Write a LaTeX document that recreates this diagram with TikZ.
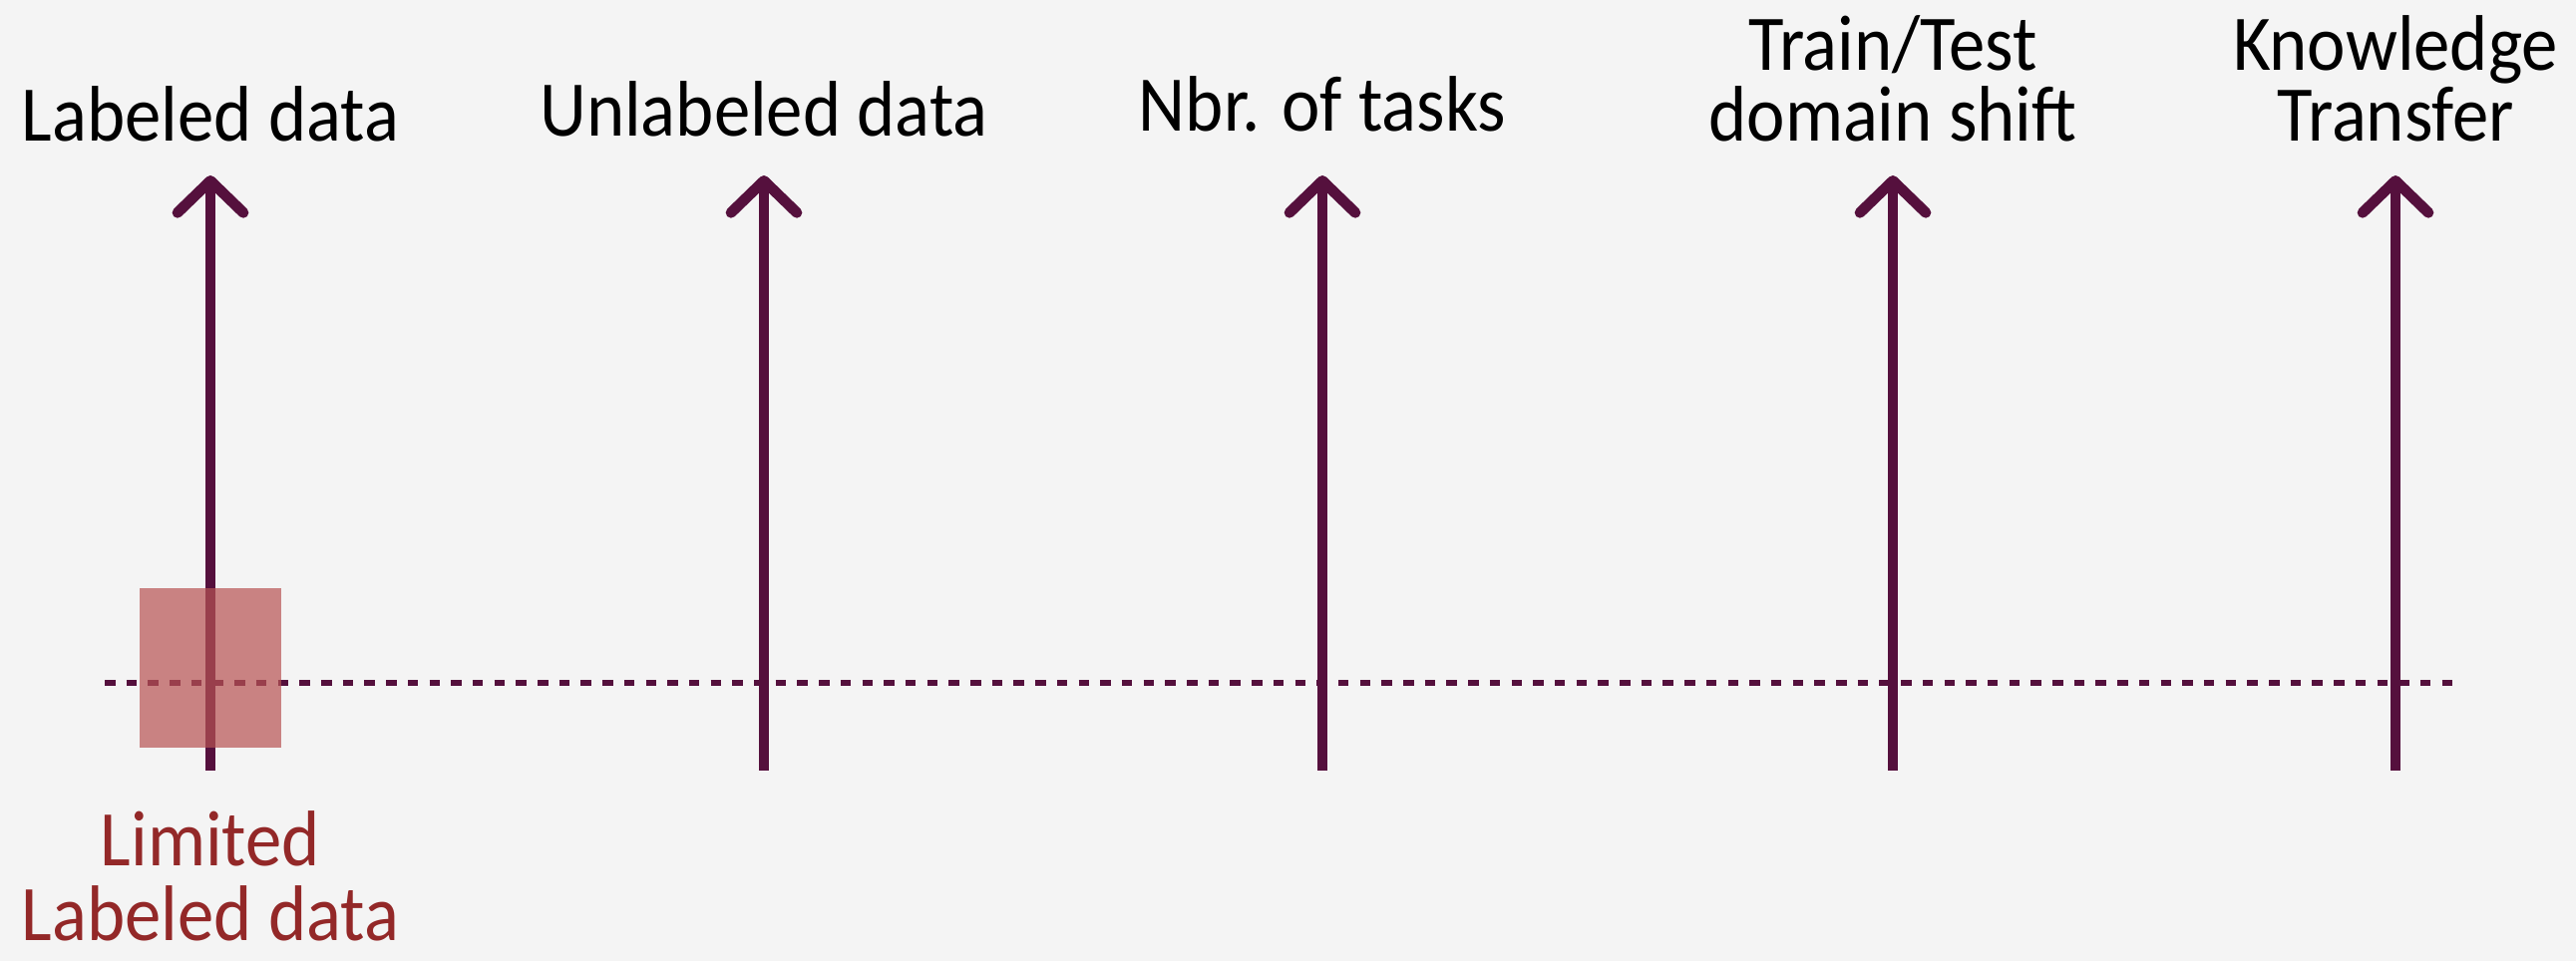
\documentclass[tikz,border=0pt]{standalone}
\usepackage{fontspec}
\setmainfont[FakeStretch = 0.92]{Carlito}
\usetikzlibrary{arrows.meta}

\definecolor{bgcol}{HTML}{F4F4F4}
\definecolor{axiscol}{HTML}{55103D}
\definecolor{limcol}{HTML}{932828}
\definecolor{boxcol}{HTML}{B75353}

\tikzset{
  axis/.style = {line width = 1.07mm, axiscol, -{Straight Barb[length = 3.2mm, width = 6.6mm, round]}},
  toplabel/.style = {inner sep = 0pt, align = center, anchor = south, font = \fontsize{22.5}{20.2}\selectfont},
  limlabel/.style = {toplabel, text = limcol, font = \fontsize{22.5}{21.5}\selectfont}
}

\begin{document}
\begin{tikzpicture}
\fill[bgcol] (0,0) rectangle (25.83,9.64);
\useasboundingbox (0,0) rectangle (25.83,9.64);

\coordinate (dash-l) at (1.05,2.79);
\coordinate (dash-r) at (24.63,2.79);
\draw[axiscol, line width = 0.62mm, dash pattern = on 1.05mm off 1.12mm] (dash-l) -- (dash-r);

\foreach \x/\name/\b/\txt in {2.11/ld/8.21/{Labeled data}, 7.66/ud/8.26/{Unlabeled data}, 13.26/nt/8.31/{Nbr. of tasks}, 18.98/ds/8.21/{Train/Test\\domain shift}, 24.02/kt/8.21/{Knowledge\\Transfer}}{
   \coordinate (\name-foot) at (\x, 1.91);
   \coordinate (\name-tip) at (\x, 7.88);
   \draw[axis] (\name-foot) -- (\name-tip);
   \node[toplabel] (\name-label) at (\x, \b) {\txt};
   }

\fill[boxcol, opacity = 0.7] (1.40,2.14) rectangle (2.82,3.74);
\node[limlabel] (lim-label) at (2.11, 0.19) {Limited\\Labeled data};
\end{tikzpicture}
\end{document}
